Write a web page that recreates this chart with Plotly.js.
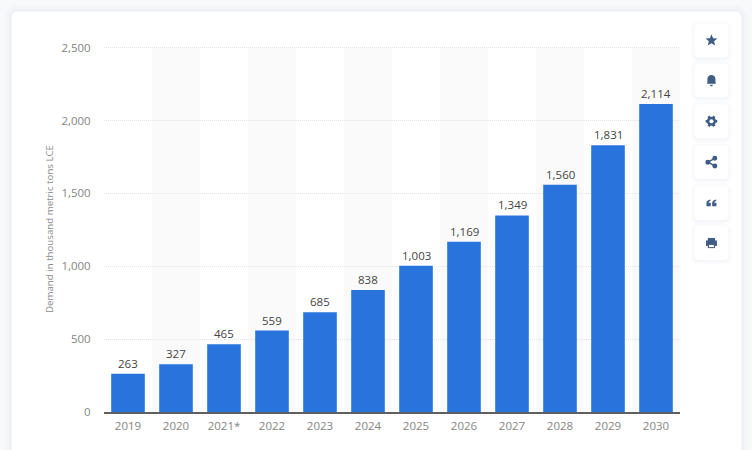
<!DOCTYPE html>
<html><head><meta charset="utf-8">
<script src="https://cdn.plot.ly/plotly-3.0.1.min.js"></script>
<style>html,body{margin:0;padding:0;background:#f8f9fb;overflow:hidden}#c{width:752px;height:450px}</style>
</head><body><div id="c"></div>
<script>
const years = ['2019','2020','2021*','2022','2023','2024','2025','2026','2027','2028','2029','2030'];
const demand = [263,327,465,559,685,838,1003,1169,1349,1560,1831,2114];
const yTicks = [0,500,1000,1500,2000,2500];
const yTickLabels = ['0','500','1,000','1,500','2,000','2,500'];
const stripedIndexes = [1,3,5,7,9,11];
const buttonCentres = [40,80,121,162,203,243];

const W=752,H=450,L=103.5,R=680.5,T=45.55,B=412.5;
const px=x=>(x-L)/(R-L), py=y=>(B-y)/(B-T);
function rr(x0,y0,x1,y1,r){
  const k=r*0.45;
  const p=(x,y)=>px(x)+','+py(y);
  return 'M'+p(x0+r,y0)+'L'+p(x1-r,y0)+'C'+p(x1-k,y0)+' '+p(x1,y0+k)+' '+p(x1,y0+r)+
    'L'+p(x1,y1-r)+'C'+p(x1,y1-k)+' '+p(x1-k,y1)+' '+p(x1-r,y1)+
    'L'+p(x0+r,y1)+'C'+p(x0+k,y1)+' '+p(x0,y1-k)+' '+p(x0,y1-r)+
    'L'+p(x0,y0+r)+'C'+p(x0,y0+k)+' '+p(x0+k,y0)+' '+p(x0+r,y0)+'Z';
}
const P=(d,o)=>Object.assign({type:'path',xref:'paper',yref:'paper',path:d,line:{width:0},layer:'below'},o);
const shapes=[];
[[7,.012],[5,.014],[3,.018],[1.5,.022]].forEach(([s,a])=>shapes.push(P(rr(11-s,11-s,742+s,470,6+s),{fillcolor:'rgba(90,110,150,'+a+')'})));
shapes.push(P(rr(11,11,742,470,6),{fillcolor:'#ffffff'}));
stripedIndexes.forEach(i=>shapes.push({type:'rect',xref:'x',yref:'y',x0:i-0.5,x1:i+0.5,y0:0,y1:2500,fillcolor:'#fafafa',line:{width:0},layer:'below'}));
buttonCentres.forEach(c=>{
  [[4,.012],[2.5,.018],[1,.025]].forEach(([s,a])=>shapes.push(P(rr(695-s,c-17-s+1,729+s,c+17+s+1,4+s),{fillcolor:'rgba(70,90,130,'+a+')'})));
  shapes.push(P(rr(695,c-17,729,c+17,4),{fillcolor:'#ffffff'}));
});
const ic='#3f5d85';
function icon(cy,cmds,o){
  const d=cmds.map(c=>{
    const t=c[0], v=c.slice(1); let s=t;
    for(let i=0;i<v.length;i+=2){s+=(i?' ':'')+px(712+v[i])+','+py(cy+v[i+1]);}
    return s;
  }).join('');
  shapes.push(Object.assign({type:'path',xref:'paper',yref:'paper',path:d,fillcolor:ic,line:{width:0},layer:'above'},o||{}));
}
function circ(cx,cy,r,col){
  shapes.push({type:'circle',xref:'paper',yref:'paper',x0:px(cx-r),x1:px(cx+r),y0:py(cy+r),y1:py(cy-r),fillcolor:col,line:{width:0},layer:'above'});
}
function ln(cy,a,b,c,d,w){
  shapes.push({type:'line',xref:'paper',yref:'paper',x0:px(712+a),y0:py(cy+b),x1:px(712+c),y1:py(cy+d),line:{color:ic,width:w},layer:'above'});
}
const star=[];for(let i=0;i<10;i++){const r=i%2?2.8:6.2,a=-Math.PI/2+i*Math.PI/5;star.push([i?'L':'M',r*Math.cos(a),r*Math.sin(a)]);}
star.push(['Z']);icon(buttonCentres[0],star);
icon(buttonCentres[1],[['M',-4.5,3.5],['C',-3.8,2,-4,-0.5,-4,-1.5],['C',-4,-4,-2,-5.5,0,-5.5],['C',2,-5.5,4,-4,4,-1.5],['C',4,-0.5,3.8,2,4.5,3.5],['Z']]);
icon(buttonCentres[1],[['M',-1.5,4.5],['L',1.5,4.5],['L',0.8,6],['L',-0.8,6],['Z']]);
const gc=buttonCentres[2];circ(712,gc,4.6,ic);
for(let i=0;i<6;i++){const a=i*Math.PI/3;ln(gc,3*Math.cos(a),3*Math.sin(a),5.8*Math.cos(a),5.8*Math.sin(a),2.6);}
circ(712,gc,2,'#ffffff');
const sc=buttonCentres[3];
ln(sc,-3.6,0,3.4,-3.8,1.5);ln(sc,-3.6,0,3.4,3.8,1.5);
circ(708.4,sc,2.5,ic);circ(715.4,sc-3.8,2.5,ic);circ(715.4,sc+3.8,2.5,ic);
const qc=buttonCentres[4];
[-5,0.7].forEach(o=>icon(qc,[['M',o,0],['C',o,-2,o+1.5,-3.2,o+4,-3.6],['L',o+4,-2],['C',o+3,-1.8,o+2.2,-1.2,o+2.2,-0.4],['L',o+4.3,-0.4],['L',o+4.3,3.2],['L',o,3.2],['Z']]));
const pc=buttonCentres[5];
icon(pc,[['M',-3.6,-5],['L',3.6,-5],['L',3.6,-1.5],['L',-3.6,-1.5],['Z']]);
icon(pc,[['M',-5.5,-2.5],['L',5.5,-2.5],['L',5.5,3],['L',-5.5,3],['Z']]);
icon(pc,[['M',-3.6,1],['L',3.6,1],['L',3.6,5.2],['L',-3.6,5.2],['Z']]);
icon(pc,[['M',-2.5,2],['L',2.5,2],['L',2.5,4.2],['L',-2.5,4.2],['Z']],{fillcolor:'#ffffff'});

const tickFont={family:'"Open Sans", sans-serif',size:11.5,color:'#858585'};
const valueLabels=years.map((y,i)=>({x:i,y:demand[i],xref:'x',yref:'y',text:demand[i].toLocaleString('en-US'),
  showarrow:false,yanchor:'bottom',yshift:1,
  font:{family:'"Open Sans", sans-serif',size:11.5,weight:500,color:'#444444'}}));
Plotly.newPlot('c',[{
  type:'bar',x:years,y:demand,
  marker:{color:'#2874dc',line:{width:0}},
  width:0.70,
  hoverinfo:'x+y'
}],{
  width:W,height:H,
  margin:{l:L,r:W-R,t:T,b:H-B,pad:0},
  paper_bgcolor:'#f8f9fb',plot_bgcolor:'rgba(0,0,0,0)',
  showlegend:false,
  shapes:shapes,annotations:valueLabels,
  xaxis:{type:'category',categoryorder:'array',categoryarray:years,range:[-0.5,11.5],
    tickfont:tickFont,showgrid:false,ticks:'outside',ticklen:3,tickcolor:'rgba(0,0,0,0)',showline:true,linecolor:'#5f5f5f',linewidth:1.5,zeroline:false,automargin:false,fixedrange:true,tickangle:0},
  yaxis:{range:[0,2512],tickvals:yTicks,ticktext:yTickLabels,tickfont:tickFont,ticks:'outside',ticklen:10,tickcolor:'rgba(0,0,0,0)',
    showgrid:true,gridcolor:'#e4e4e4',griddash:'1px,1px',gridwidth:1,zeroline:false,showline:false,automargin:false,fixedrange:true,
    title:{text:'Demand in thousand metric tons LCE',standoff:6,font:{family:'"Open Sans", sans-serif',size:9.7,color:'#8c8c8c'}}}
},{displayModeBar:false,staticPlot:true});
</script></body></html>
